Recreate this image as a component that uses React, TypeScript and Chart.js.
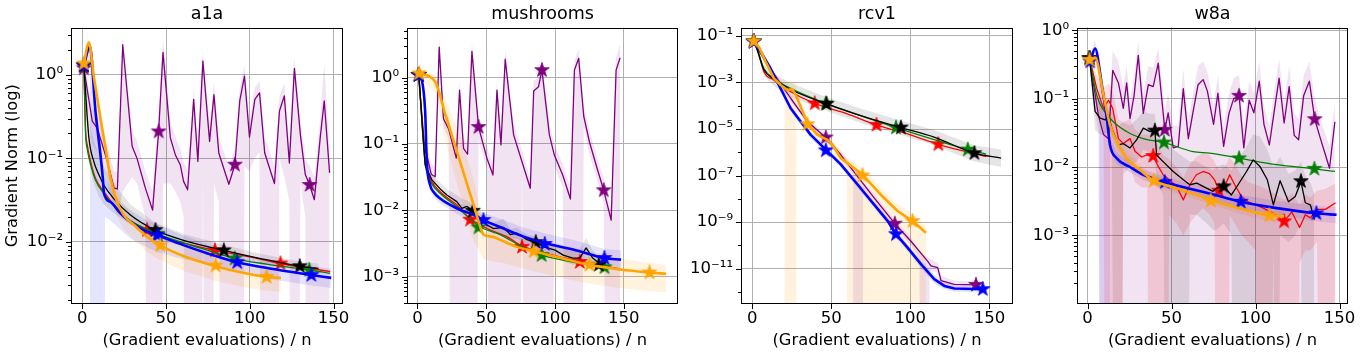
import React, { useEffect, useRef } from 'react';
import { Chart, registerables } from 'chart.js';

Chart.register(...registerables);
Chart.defaults.font.family = "'DejaVu Sans', sans-serif";
Chart.defaults.color = '#000';

const OFF = 1e-16; // band edge that falls below the visible range

// ---------------- a1a ----------------
const A1A_PURPLE_X = [1, 6, 9, 15, 19, 21, 24.2, 29.8, 32.7, 37.7, 42, 45.6, 48.2, 52.6, 55.6, 58.5, 60.5, 62.9, 66.5, 69, 72, 76, 78.6, 81.5, 87.5, 91.1, 94, 96.8, 99.8, 103, 105.8, 108.9, 114.7, 117.7, 120.6, 123.6, 126.6, 130.2, 133.1, 135.7, 138.5, 142, 144.4, 147.6];
const A1A_PURPLE_Y = [1.2, 0.28, 0.23, 0.092, 0.044, 0.043, 2.3, 0.14, 0.1, 0.044, 0.024, 0.21, 1.86, 0.176, 0.11, 0.084, 0.053, 0.042, 0.51, 0.092, 1.47, 0.16, 0.58, 0.116, 0.049, 0.084, 0.49, 0.97, 0.18, 0.51, 0.61, 0.116, 0.05, 0.37, 0.56, 0.088, 1.2, 0.19, 0.064, 0.048, 0.032, 0.176, 0.49, 0.067];
const A1A_PURPLE_LO = [0.9, 0.15, 0.12, 0.05, 0.025, 0.022, 0.04, 0.06, 0.05, 0.02, OFF, OFF, 0.05, 0.05, 0.04, 0.03, 0.02, OFF, OFF, OFF, 0.06, OFF, 0.05, 0.03, OFF, OFF, OFF, 0.08, 0.07, 0.1, 0.12, OFF, OFF, 0.1, 0.06, 0.03, OFF, 0.05, 0.02, OFF, OFF, OFF, OFF, OFF];
const A1A_PURPLE_HI = [1.5, 0.4, 0.35, 0.14, 0.07, 0.07, 2.6, 0.22, 0.16, 0.07, 0.04, 0.35, 2.7, 0.28, 0.18, 0.13, 0.09, 0.07, 0.7, 0.15, 1.9, 0.26, 0.8, 0.18, 0.08, 0.13, 0.7, 1.3, 0.28, 0.7, 0.85, 0.18, 0.08, 0.55, 0.8, 0.14, 1.6, 0.3, 0.1, 0.08, 0.06, 0.3, 1.4, 0.12];
const A1A_PURPLE_STARS = [[1, 1.2], [45.6, 0.21], [91.1, 0.084], [135.7, 0.048]];

const A1A_RED_X = [1, 2, 3, 5, 7.9, 12.9, 18.8, 26.8, 38.7, 52.6, 66, 79.2, 100, 118.3, 147.9];
const A1A_RED_Y = [1.3, 0.23, 0.146, 0.092, 0.058, 0.04, 0.028, 0.019, 0.0138, 0.0105, 0.0091, 0.0079, 0.0066, 0.0055, 0.0044];
const A1A_RED_STARS = [[1, 1.3], [38.7, 0.0138], [79.2, 0.0079], [118.3, 0.0055]];

const A1A_GREEN_X = [1, 2, 3, 5, 7.9, 12.9, 18.8, 26.8, 45, 60, 75, 91, 110, 135.5, 147.9];
const A1A_GREEN_Y = [1.3, 0.2, 0.13, 0.085, 0.055, 0.038, 0.027, 0.019, 0.0125, 0.0098, 0.0079, 0.0063, 0.0054, 0.0046, 0.0042];
const A1A_GREEN_STARS = [[1, 1.3], [45, 0.0125], [91, 0.0063], [135.5, 0.0046]];

const A1A_BLACK_X = [1, 4, 6.9, 9.9, 12.9, 18.8, 28.8, 43.7, 60, 84.5, 105, 129.8, 141];
const A1A_BLACK_Y = [1.3, 0.176, 0.092, 0.064, 0.048, 0.033, 0.021, 0.0138, 0.0105, 0.0079, 0.0064, 0.0051, 0.0048];
const A1A_BLACK_LO = [1.1, 0.09, 0.05, 0.035, 0.028, 0.022, 0.016, 0.011, 0.0088, 0.0068, 0.0056, 0.0045, 0.0042];
const A1A_BLACK_HI = [1.5, 0.3, 0.16, 0.11, 0.08, 0.05, 0.028, 0.017, 0.0125, 0.0092, 0.0073, 0.0058, 0.0055];
const A1A_BLACK_STARS = [[1, 1.3], [43.7, 0.0138], [84.5, 0.0079], [129.8, 0.0051]];

const A1A_BLUE_X = [1, 4.6, 7.9, 10.9, 12.3, 13, 16.9, 22.8, 28.8, 36.7, 45, 60, 73.6, 92.5, 115, 136.7, 148.6];
const A1A_BLUE_Y = [1.3, 2.2, 0.37, 0.11, 0.058, 0.038, 0.03, 0.022, 0.0174, 0.0138, 0.012, 0.0092, 0.0074, 0.0057, 0.0047, 0.004, 0.0037];
const A1A_BLUE_BX = [1, 4.6, 5, 13.4, 13.6, 16.9, 22.8, 28.8, 36.7, 45, 60, 73.6, 92.5, 115, 136.7, 148.6];
const A1A_BLUE_LO = [1.0, 1.5, OFF, OFF, 0.02, 0.018, 0.014, 0.011, 0.009, 0.0075, 0.0062, 0.0056, 0.0045, 0.0035, 0.003, 0.0028];
const A1A_BLUE_HI = [1.6, 2.6, 2.0, 0.06, 0.06, 0.045, 0.03, 0.024, 0.019, 0.016, 0.012, 0.0095, 0.0073, 0.006, 0.0051, 0.0048];
const A1A_BLUE_STARS = [[1, 1.3], [45, 0.012], [92.5, 0.0057], [136.7, 0.004]];

const A1A_ORANGE_X = [1, 4, 7, 10.9, 13.9, 16.9, 20.8, 24.8, 30.8, 38.7, 46.6, 60, 79.6, 95, 110, 118.5];
const A1A_ORANGE_Y = [1.37, 2.45, 0.93, 0.3, 0.133, 0.058, 0.03, 0.021, 0.016, 0.0115, 0.0091, 0.0068, 0.0051, 0.0043, 0.0038, 0.0037];
const A1A_ORANGE_LO = [1.2, 2.0, 0.7, 0.2, 0.09, 0.04, 0.02, 0.014, 0.0105, 0.0075, 0.006, 0.0045, 0.0034, 0.0029, 0.0026, 0.0025];
const A1A_ORANGE_HI = [1.55, 2.7, 1.2, 0.4, 0.18, 0.08, 0.04, 0.028, 0.021, 0.015, 0.012, 0.009, 0.0068, 0.0057, 0.005, 0.0049];
const A1A_ORANGE_STARS = [[1, 1.37], [46.6, 0.0091], [79.6, 0.0052], [110, 0.0038]];

// ---------------- mushrooms ----------------
const MUS_PURPLE_X = [0.7, 5, 10, 12.9, 15.8, 18.9, 22.6, 28.2, 30.6, 33.5, 36.4, 39.6, 44.4, 50.5, 54.9, 57.8, 60.7, 63.8, 69.9, 76, 82, 84.5, 88, 90.5, 95.9, 99.5, 105.6, 111.2, 114.1, 117.2, 120.9, 125, 130.3, 135.4, 140.8, 144.4, 147.3];
const MUS_PURPLE_Y = [1.1, 0.1, 0.035, 0.032, 2.9, 0.24, 0.17, 0.061, 0.65, 0.086, 0.07, 2.5, 0.18, 0.061, 0.034, 0.65, 0.097, 1.9, 0.137, 0.054, 0.0215, 0.63, 0.73, 1.3, 0.137, 0.068, 0.034, 0.0148, 1.3, 1.96, 0.26, 0.108, 0.045, 0.02, 0.0071, 1.3, 2.0];
const MUS_PURPLE_LO = [0.9, 0.07, 0.025, 0.025, 2.0, 0.18, 0.12, OFF, OFF, OFF, OFF, OFF, 0.12, 0.04, OFF, OFF, OFF, OFF, OFF, 0.035, OFF, OFF, OFF, OFF, OFF, 0.045, 0.022, OFF, OFF, OFF, 0.18, 0.07, 0.03, 0.013, OFF, OFF, OFF];
const MUS_PURPLE_HI = [1.3, 0.15, 0.05, 0.045, 4.0, 0.35, 0.25, 0.09, 0.9, 0.12, 0.1, 3.4, 0.26, 0.09, 0.05, 0.9, 0.14, 2.6, 0.2, 0.08, 0.03, 0.9, 1.0, 1.9, 0.2, 0.1, 0.05, 0.022, 1.8, 2.7, 0.38, 0.16, 0.065, 0.03, 0.01, 2.0, 3.3];
const MUS_PURPLE_STARS = [[0.7, 1.1], [44.4, 0.18], [90.5, 1.3], [135.4, 0.02]];

const MUS_RED_X = [1, 5.6, 7.3, 10.4, 16.5, 28.6, 38.3, 50.5, 65, 76, 95, 118, 146.8];
const MUS_RED_Y = [1.1, 0.054, 0.038, 0.027, 0.019, 0.012, 0.0075, 0.0053, 0.004, 0.0029, 0.0022, 0.0017, 0.0013];
const MUS_RED_STARS = [[1, 1.1], [38.3, 0.0072], [76, 0.0028], [118, 0.00166]];

const MUS_GREEN_X = [1, 5.6, 7.3, 10.4, 16.5, 28.6, 44.4, 60, 75, 90.3, 110, 136, 147];
const MUS_GREEN_Y = [1.1, 0.05, 0.035, 0.025, 0.018, 0.0113, 0.0058, 0.0043, 0.0029, 0.0021, 0.0017, 0.0014, 0.0013];
const MUS_GREEN_STARS = [[1, 1.1], [44.4, 0.0055], [90.3, 0.0021], [136, 0.00138]];

const MUS_BLACK_X = [1, 5.6, 10.4, 16.5, 21.4, 28.6, 32.3, 36, 40.3, 43.2, 50.5, 55.3, 62.6, 67.5, 72.3, 79.6, 86, 92, 100, 106, 112.9, 118, 122.6, 127.4, 131.8, 134.7];
const MUS_BLACK_Y = [1.1, 0.048, 0.029, 0.021, 0.017, 0.0135, 0.0107, 0.0114, 0.0098, 0.0085, 0.006, 0.0053, 0.0055, 0.0043, 0.0045, 0.0036, 0.0033, 0.0028, 0.0025, 0.0021, 0.0019, 0.0019, 0.0027, 0.0019, 0.0016, 0.0015];
const MUS_BLACK_LO = [1.0, 0.04, 0.024, 0.017, 0.014, 0.011, 0.0088, 0.009, 0.008, 0.007, 0.005, 0.0044, 0.0044, 0.0036, 0.0037, 0.003, 0.0027, 0.0023, 0.002, 0.0017, 0.0015, 0.0015, 0.0018, 0.0015, 0.0013, 0.0012];
const MUS_BLACK_HI = [1.2, 0.058, 0.035, 0.026, 0.021, 0.017, 0.015, 0.014, 0.012, 0.01, 0.0072, 0.0065, 0.0075, 0.0052, 0.0055, 0.0043, 0.004, 0.0034, 0.003, 0.0026, 0.0024, 0.0026, 0.0038, 0.0025, 0.002, 0.0018];
const MUS_BLACK_STARS = [[1, 1.1], [40.3, 0.0098], [86, 0.0033], [131.8, 0.0015]];

const MUS_BLUE_X = [1, 3, 5.6, 6.8, 9.2, 11.6, 16.5, 28.6, 40.8, 48, 62.6, 77.2, 92.5, 115, 135.9, 148];
const MUS_BLUE_Y = [1.1, 0.95, 0.31, 0.054, 0.024, 0.019, 0.015, 0.0107, 0.0085, 0.0071, 0.0053, 0.004, 0.0032, 0.0025, 0.0019, 0.0018];
const MUS_BLUE_LO = [1.0, 0.85, 0.25, 0.045, 0.02, 0.016, 0.0125, 0.0088, 0.0068, 0.0056, 0.0041, 0.003, 0.0023, 0.0017, 0.0013, 0.0012];
const MUS_BLUE_HI = [1.2, 1.05, 0.38, 0.065, 0.029, 0.023, 0.018, 0.013, 0.011, 0.0092, 0.0071, 0.0055, 0.0045, 0.0035, 0.0026, 0.0025];
const MUS_BLUE_STARS = [[1, 1.1], [48, 0.0071], [92.5, 0.0031], [135.9, 0.0019]];

const MUS_ORANGE_X = [1.2, 12.9, 20, 30, 40.8, 44.4, 48, 54, 62.6, 72.3, 84.5, 100, 125, 145, 168.7, 180.8];
const MUS_ORANGE_Y = [1.16, 0.87, 0.29, 0.063, 0.012, 0.0068, 0.0043, 0.004, 0.0034, 0.0028, 0.0024, 0.002, 0.0015, 0.0013, 0.00115, 0.0011];
const MUS_ORANGE_LO = [1.0, 0.6, 0.12, 0.02, 0.0035, 0.0025, 0.0018, 0.0017, 0.0016, 0.0014, 0.0012, 0.001, 0.00078, 0.00068, 0.0006, 0.00058];
const MUS_ORANGE_HI = [1.3, 1.1, 0.5, 0.15, 0.03, 0.014, 0.0075, 0.0062, 0.0052, 0.0044, 0.0038, 0.0032, 0.0024, 0.0019, 0.0016, 0.0015];
const MUS_ORANGE_STARS = [[1.2, 1.16], [84.5, 0.0024], [125, 0.0015], [168.7, 0.00115]];

// ---------------- rcv1 ----------------
const RCV_PURPLE_X = [1, 8.5, 24.3, 34.9, 46.5, 56, 77.1, 90.2, 100.4, 110.9, 113, 117.3, 119.4, 127.8, 141.5];
const RCV_PURPLE_Y = [5.8e-2, 7.8e-3, 2.1e-4, 2.1e-5, 4.3e-6, 7.8e-7, 1.1e-8, 8.5e-10, 1.5e-10, 2.1e-11, 1.3e-11, 1.1e-11, 3.0e-12, 2.1e-12, 2.0e-12];
const RCV_PURPLE_BX = [1, 8.5, 24.3, 34.9, 46.5, 56, 63.8, 64, 70, 70.2, 77.1, 90.2, 100.4, 105.8, 106, 112, 112.2, 117.3, 119.4, 127.8, 141.5];
const RCV_PURPLE_LO = [5e-2, 6e-3, 1.5e-4, 1.5e-5, 3e-6, 5.5e-7, 1.1e-7, OFF, OFF, 2.8e-8, 8e-9, 6e-10, 1e-10, 2.5e-11, OFF, OFF, 8e-12, 7e-12, 2e-12, 1.5e-12, 1.5e-12];
const RCV_PURPLE_HI = [6.5e-2, 1.0e-2, 2.9e-4, 2.9e-5, 6e-6, 1.1e-6, 2.6e-7, 2.5e-7, 5.5e-8, 5.3e-8, 1.6e-8, 1.2e-9, 2.2e-10, 5e-11, 5e-11, 2.8e-11, 2.7e-11, 1.8e-11, 5e-12, 3e-12, 2.8e-12];
const RCV_PURPLE_STARS = [[1, 5.8e-2], [46.5, 4.3e-6], [90.2, 8.5e-10], [141.5, 2.0e-12]];

const RCV_RED_X = [1, 3.2, 7.4, 13.7, 24.3, 39.5, 60, 78.6, 100, 117.7, 147.9];
const RCV_RED_Y = [5.9e-2, 2.9e-2, 2.9e-3, 1.26e-3, 4.0e-4, 1.26e-4, 4.5e-5, 1.5e-5, 5.6e-6, 2.2e-6, 6.6e-7];
const RCV_RED_STARS = [[1, 5.9e-2], [39.5, 1.26e-4], [78.6, 1.5e-5], [117.7, 2.2e-6]];

const RCV_GREEN_X = [1, 3.2, 7.4, 13.7, 24.3, 46.5, 70, 90.9, 115, 136.3, 147.9];
const RCV_GREEN_Y = [5.9e-2, 2.5e-2, 4.0e-3, 1.5e-3, 5.6e-4, 1.26e-4, 3.5e-5, 1.15e-5, 3.5e-6, 1.3e-6, 8.3e-7];
const RCV_GREEN_STARS = [[1, 5.9e-2], [46.5, 1.26e-4], [90.9, 1.15e-5], [136.3, 1.3e-6]];

const RCV_BLACK_X = [1, 3.2, 7.4, 13.7, 24.3, 47, 70, 94, 115, 140.5, 157.4];
const RCV_BLACK_Y = [5.9e-2, 2.5e-2, 3.5e-3, 1.4e-3, 5.0e-4, 1.2e-4, 3.5e-5, 1.15e-5, 4.5e-6, 9.1e-7, 5.6e-7];
const RCV_BLACK_LO = [5.0e-2, 1.8e-2, 1.9e-3, 7e-4, 2.3e-4, 6e-5, 1.7e-5, 5.5e-6, 2e-6, 4e-7, 2.3e-7];
const RCV_BLACK_HI = [6.5e-2, 3.2e-2, 5.5e-3, 2.4e-3, 9.5e-4, 2.3e-4, 7e-5, 2.3e-5, 9e-6, 2e-6, 1.3e-6];
const RCV_BLACK_STARS = [[1, 5.9e-2], [47, 1.2e-4], [94, 1.15e-5], [140.5, 9.1e-7]];

const RCV_BLUE_X = [1, 5.3, 11.6, 15.8, 24.3, 30.6, 37, 46.5, 56, 66.6, 77.1, 85.7, 90.9, 98.2, 106.7, 115.1, 121.5, 127.8, 145.8];
const RCV_BLUE_Y = [5.6e-2, 2.1e-2, 4.0e-3, 1.07e-3, 7.8e-5, 2.1e-5, 5.6e-6, 1.3e-6, 3.0e-7, 4.1e-8, 5.6e-9, 1.1e-9, 3.0e-10, 7.9e-11, 1.55e-11, 3.5e-12, 1.8e-12, 1.4e-12, 1.3e-12];
const RCV_BLUE_LO = [5.0e-2, 1.6e-2, 3.0e-3, 8.0e-4, 5.8e-5, 1.5e-5, 4.0e-6, 9.5e-7, 2.2e-7, 3.0e-8, 4.0e-9, 7.8e-10, 2.1e-10, 5.5e-11, 1.0e-11, 2.3e-12, 1.3e-12, 1.0e-12, 0.95e-12];
const RCV_BLUE_HI = [6.3e-2, 2.8e-2, 5.4e-3, 1.4e-3, 1.05e-4, 2.9e-5, 7.6e-6, 1.8e-6, 4.1e-7, 5.6e-8, 7.8e-9, 1.6e-9, 4.3e-10, 1.1e-10, 2.3e-11, 5.5e-12, 2.6e-12, 1.9e-12, 1.7e-12];
const RCV_BLUE_STARS = [[1, 5.6e-2], [46.5, 1.2e-6], [90.9, 3.0e-10], [145.8, 1.3e-12]];

const RCV_ORANGE_X = [1, 4.2, 8.5, 13.7, 18, 22.2, 25.4, 27.5, 34.9, 41.2, 47.5, 50.7, 56, 69.7, 81.3, 91.9, 101.4, 109.9];
const RCV_ORANGE_Y = [5.9e-2, 3.4e-2, 7.8e-3, 1.5e-3, 7.8e-4, 4.7e-4, 5.2e-4, 2.9e-4, 1.8e-5, 5.6e-6, 3.4e-6, 2.1e-6, 5.6e-7, 1.1e-7, 1.5e-8, 3.0e-9, 1.1e-9, 3.5e-10];
const RCV_ORANGE_BX = [1, 13.7, 20.4, 20.6, 27.8, 28, 34.9, 41.2, 47.5, 56, 59.8, 60, 69.7, 81.3, 91.9, 101.4, 109.9, 110.1];
const RCV_ORANGE_LO = [5.2e-2, 1.2e-3, 4e-4, OFF, OFF, 2e-4, 1.2e-5, 3.5e-6, 2e-6, 3e-7, 1.5e-7, OFF, OFF, OFF, OFF, OFF, OFF, OFF];
const RCV_ORANGE_HI = [6.7e-2, 1.9e-3, 1e-3, 1e-3, 1e-3, 5e-4, 2.8e-5, 9e-6, 5.5e-6, 1.2e-6, 6e-7, 6e-7, 2.2e-7, 3e-8, 6e-9, 2.2e-9, 7e-10, OFF];
const RCV_ORANGE_STARS = [[1, 5.9e-2], [34.9, 1.6e-5], [69.7, 1.0e-7], [101.4, 1.1e-9]];

// ---------------- w8a ----------------
const W8A_PURPLE_X = [1.2, 3, 6.5, 9.5, 12.5, 15, 18.4, 21.3, 23.3, 25.3, 27.7, 30.2, 33.2, 36.2, 39.1, 42.1, 46, 48, 51, 54, 57, 60, 62.8, 65.8, 68.8, 71.3, 75, 77.6, 81, 84.2, 87, 90.2, 93, 96.2, 99, 102.2, 105, 108.2, 111.2, 114, 117, 120, 123, 125.6, 128.6, 132, 135.2, 138.6, 141.6, 144, 147.2];
const W8A_PURPLE_Y = [0.39, 0.2, 0.057, 0.03, 0.026, 0.26, 0.17, 0.072, 0.17, 0.051, 0.11, 0.43, 0.061, 0.16, 0.15, 0.33, 0.035, 0.062, 0.019, 0.02, 0.14, 0.026, 0.064, 0.16, 0.19, 0.13, 0.042, 0.12, 0.02, 0.061, 0.1, 0.11, 0.019, 0.095, 0.062, 0.18, 0.042, 0.021, 0.068, 0.2, 0.044, 0.15, 0.029, 0.025, 0.11, 0.18, 0.05, 0.026, 0.015, 0.0096, 0.046];
const W8A_PURPLE_LO = [0.3, 0.12, 0.03, OFF, OFF, OFF, OFF, OFF, OFF, OFF, OFF, OFF, OFF, OFF, OFF, OFF, OFF, OFF, OFF, OFF, OFF, OFF, OFF, OFF, OFF, OFF, OFF, OFF, OFF, OFF, OFF, OFF, OFF, OFF, OFF, OFF, OFF, OFF, OFF, OFF, OFF, OFF, OFF, OFF, OFF, OFF, OFF, OFF, OFF, OFF, OFF];
const W8A_PURPLE_HI = [0.45, 0.3, 0.12, 0.06, 0.05, 0.5, 0.35, 0.15, 0.3, 0.1, 0.2, 0.7, 0.12, 0.3, 0.28, 0.55, 0.07, 0.12, 0.04, 0.04, 0.27, 0.05, 0.12, 0.3, 0.35, 0.25, 0.08, 0.22, 0.04, 0.12, 0.2, 0.22, 0.04, 0.18, 0.12, 0.35, 0.08, 0.04, 0.13, 0.38, 0.09, 0.3, 0.06, 0.05, 0.22, 0.35, 0.1, 0.05, 0.03, 0.02, 0.09];
const W8A_PURPLE_STARS = [[1.2, 0.39], [46, 0.035], [90.2, 0.11], [135.2, 0.05]];

const W8A_RED_X = [1.2, 5.5, 9.5, 12.5, 15, 18.4, 21.3, 25.3, 28.3, 32.2, 35.5, 39.1, 42.1, 45, 48.6, 53, 57, 60.9, 64.8, 68.8, 72.6, 75.6, 78.2, 81.6, 84.6, 87.6, 91.6, 95.6, 100, 104.6, 110.6, 117, 121.6, 126.2, 129.6, 132.6, 136.6, 141.6, 147.6];
const W8A_RED_Y = [0.39, 0.14, 0.072, 0.095, 0.072, 0.026, 0.022, 0.026, 0.017, 0.014, 0.015, 0.0145, 0.0102, 0.0077, 0.0065, 0.0052, 0.0033, 0.0055, 0.0077, 0.0086, 0.008, 0.0065, 0.0045, 0.0052, 0.0077, 0.0055, 0.0037, 0.0031, 0.0028, 0.0025, 0.0021, 0.0016, 0.0022, 0.0013, 0.002, 0.0018, 0.0024, 0.0024, 0.003];
const W8A_RED_LO = [0.3, 0.08, 0.035, OFF, OFF, OFF, 0.008, 0.01, 0.006, 0.005, 0.005, OFF, OFF, OFF, 0.002, 0.0015, 0.001, 0.0015, 0.002, 0.0025, 0.002, 0.0015, OFF, OFF, 0.002, 0.0015, 0.001, 0.0008, 0.0006, OFF, 0.0007, OFF, OFF, 0.0004, 0.0006, 0.0006, 0.0008, OFF, OFF];
const W8A_RED_HI = [0.45, 0.22, 0.14, 0.17, 0.13, 0.05, 0.045, 0.05, 0.035, 0.03, 0.03, 0.028, 0.02, 0.015, 0.013, 0.01, 0.007, 0.011, 0.014, 0.016, 0.015, 0.012, 0.009, 0.01, 0.014, 0.011, 0.0075, 0.006, 0.0055, 0.005, 0.0042, 0.0033, 0.0042, 0.0028, 0.004, 0.0036, 0.0045, 0.0048, 0.0058];
const W8A_RED_STARS = [[1.2, 0.39], [39.1, 0.0145], [78.2, 0.0045], [117, 0.0016]];

const W8A_GREEN_X = [1.2, 5.5, 13.4, 23.3, 33.2, 45.5, 62.8, 72.6, 90.2, 112.6, 135, 147.2];
const W8A_GREEN_Y = [0.39, 0.113, 0.052, 0.033, 0.026, 0.0228, 0.0168, 0.016, 0.0135, 0.0108, 0.0094, 0.0086];
const W8A_GREEN_STARS = [[1.2, 0.39], [45.5, 0.0228], [90.2, 0.0134], [135, 0.0094]];

const W8A_BLACK_X = [1.2, 4.5, 7.5, 10.5, 12.5, 14.4, 18.4, 21.3, 25.3, 29.2, 33.2, 37.2, 40.1, 41.1, 45, 51, 57, 60.9, 65, 70.8, 74.7, 76.6, 81, 85.6, 89.6, 94.6, 98.6, 102.6, 107, 110.6, 114.6, 119.6, 123.6, 127, 129.6, 132.6, 135];
const W8A_BLACK_Y = [0.39, 0.065, 0.052, 0.049, 0.058, 0.037, 0.021, 0.022, 0.019, 0.025, 0.037, 0.033, 0.034, 0.015, 0.012, 0.0086, 0.0065, 0.0055, 0.0058, 0.0049, 0.0044, 0.0049, 0.0052, 0.0039, 0.0055, 0.0086, 0.0127, 0.0102, 0.0065, 0.0028, 0.0063, 0.0031, 0.0037, 0.0061, 0.003, 0.0028, 0.0017];
const W8A_BLACK_LO = [0.3, 0.035, 0.03, 0.03, 0.035, 0.02, OFF, 0.01, 0.01, 0.012, 0.018, 0.016, 0.015, 0.006, 0.004, OFF, OFF, 0.002, 0.002, 0.0015, 0.0012, 0.0012, 0.0015, 0.001, OFF, OFF, OFF, OFF, OFF, OFF, 0.001, 0.0008, 0.001, 0.0015, OFF, OFF, OFF];
const W8A_BLACK_HI = [0.45, 0.12, 0.09, 0.08, 0.09, 0.065, 0.04, 0.045, 0.04, 0.05, 0.065, 0.06, 0.06, 0.03, 0.025, 0.018, 0.014, 0.012, 0.012, 0.01, 0.009, 0.01, 0.011, 0.009, 0.013, 0.02, 0.03, 0.028, 0.018, 0.01, 0.014, 0.008, 0.009, 0.012, 0.0075, 0.006, 0.004];
const W8A_BLACK_STARS = [[1.2, 0.39], [40.1, 0.034], [81, 0.0052], [127, 0.0062]];

const W8A_BLUE_X = [1.6, 4.5, 8.5, 11.5, 13.4, 17.4, 25.3, 33.2, 46, 62.8, 72.6, 91.2, 112.6, 136.2, 148.2];
const W8A_BLUE_Y = [0.35, 0.54, 0.16, 0.051, 0.021, 0.0134, 0.01, 0.0077, 0.006, 0.0047, 0.0041, 0.0031, 0.0025, 0.0021, 0.002];
const W8A_BLUE_BX = [1.6, 4.5, 7, 7.2, 13, 13.4, 17.4, 25.3, 33.2, 46, 62.8, 72.6, 91.2, 112.6, 136.2, 148.2];
const W8A_BLUE_LO = [0.3, 0.42, 0.2, OFF, OFF, 0.017, 0.011, 0.0083, 0.0064, 0.005, 0.0039, 0.0034, 0.0025, 0.002, 0.0016, 0.0015];
const W8A_BLUE_HI = [0.42, 0.72, 0.35, 0.33, 0.06, 0.026, 0.016, 0.012, 0.0093, 0.0072, 0.0056, 0.005, 0.0039, 0.0032, 0.0027, 0.0026];
const W8A_BLUE_STARS = [[1.6, 0.35], [46, 0.006], [91.2, 0.0031], [136.2, 0.0021]];

const W8A_ORANGE_X = [1.2, 4.5, 9.5, 13.4, 17.4, 23.3, 31.2, 39.5, 53, 62.8, 73.3, 90, 108.2, 117];
const W8A_ORANGE_Y = [0.37, 0.4, 0.113, 0.041, 0.0236, 0.0135, 0.0091, 0.0063, 0.0049, 0.0041, 0.0033, 0.0025, 0.00196, 0.0019];
const W8A_ORANGE_LO = [0.3, 0.32, 0.085, 0.032, 0.019, 0.011, 0.0076, 0.0053, 0.0041, 0.0035, 0.0028, 0.0021, 0.0016, 0.0016];
const W8A_ORANGE_HI = [0.44, 0.5, 0.14, 0.052, 0.029, 0.0165, 0.011, 0.0075, 0.0058, 0.0049, 0.0039, 0.003, 0.0023, 0.0023];
const W8A_ORANGE_STARS = [[1.2, 0.37], [39.5, 0.0063], [73.3, 0.0032], [108.2, 0.00196]];

// ---------------- axes ----------------
const X_TICKS = [0, 50, 100, 150];
const A1A_MAJOR = [-2, -1, 0];
const MUS_MAJOR = [-3, -2, -1, 0];
const RCV_MAJOR = [-11, -9, -7, -5, -3, -1];
const RCV_MINOR = [-12, -10, -8, -6, -4, -2];
const W8A_MAJOR = [-3, -2, -1, 0];
const X_LABEL = '(Gradient evaluations) / n';
const Y_LABEL = 'Gradient Norm (log)';

const STYLE: Record<string, { color: string; band: string; width: number }> = {
  purple: { color: '#800080', band: 'rgba(128,0,128,0.11)', width: 1.3 },
  red: { color: '#ff0000', band: 'rgba(255,0,0,0.13)', width: 1.3 },
  green: { color: '#008000', band: 'rgba(0,128,0,0.1)', width: 1.3 },
  black: { color: '#000000', band: 'rgba(0,0,0,0.1)', width: 1.3 },
  blue: { color: '#0000ff', band: 'rgba(0,0,255,0.1)', width: 2.6 },
  orange: { color: '#ffa500', band: 'rgba(255,165,0,0.13)', width: 2.6 },
};

type S = { key: string; x: number[]; y: number[]; bx?: number[]; lo?: number[]; hi?: number[]; stars: number[][]; smooth: boolean };

const PANELS = [
  {
    title: 'a1a', plotLeft: 71, plotW: 272, yW: 71, xMin: -6.68, xMax: 155.6, yMin: 1.8e-3, yMax: 3.7,
    major: A1A_MAJOR, minorDecades: null as number[] | null, yTitle: true,
    series: [
      { key: 'purple', x: A1A_PURPLE_X, y: A1A_PURPLE_Y, lo: A1A_PURPLE_LO, hi: A1A_PURPLE_HI, stars: A1A_PURPLE_STARS, smooth: false },
      { key: 'red', x: A1A_RED_X, y: A1A_RED_Y, stars: A1A_RED_STARS, smooth: true },
      { key: 'green', x: A1A_GREEN_X, y: A1A_GREEN_Y, stars: A1A_GREEN_STARS, smooth: true },
      { key: 'black', x: A1A_BLACK_X, y: A1A_BLACK_Y, lo: A1A_BLACK_LO, hi: A1A_BLACK_HI, stars: A1A_BLACK_STARS, smooth: true },
      { key: 'blue', x: A1A_BLUE_X, y: A1A_BLUE_Y, bx: A1A_BLUE_BX, lo: A1A_BLUE_LO, hi: A1A_BLUE_HI, stars: A1A_BLUE_STARS, smooth: true },
      { key: 'orange', x: A1A_ORANGE_X, y: A1A_ORANGE_Y, lo: A1A_ORANGE_LO, hi: A1A_ORANGE_HI, stars: A1A_ORANGE_STARS, smooth: true },
    ] as S[],
  },
  {
    title: 'mushrooms', plotLeft: 407, plotW: 271, yW: 60, xMin: -7.6, xMax: 189.4, yMin: 3.85e-4, yMax: 5.72,
    major: MUS_MAJOR, minorDecades: null, yTitle: false,
    series: [
      { key: 'purple', x: MUS_PURPLE_X, y: MUS_PURPLE_Y, lo: MUS_PURPLE_LO, hi: MUS_PURPLE_HI, stars: MUS_PURPLE_STARS, smooth: false },
      { key: 'red', x: MUS_RED_X, y: MUS_RED_Y, stars: MUS_RED_STARS, smooth: true },
      { key: 'green', x: MUS_GREEN_X, y: MUS_GREEN_Y, stars: MUS_GREEN_STARS, smooth: true },
      { key: 'black', x: MUS_BLACK_X, y: MUS_BLACK_Y, lo: MUS_BLACK_LO, hi: MUS_BLACK_HI, stars: MUS_BLACK_STARS, smooth: false },
      { key: 'blue', x: MUS_BLUE_X, y: MUS_BLUE_Y, lo: MUS_BLUE_LO, hi: MUS_BLUE_HI, stars: MUS_BLUE_STARS, smooth: true },
      { key: 'orange', x: MUS_ORANGE_X, y: MUS_ORANGE_Y, lo: MUS_ORANGE_LO, hi: MUS_ORANGE_HI, stars: MUS_ORANGE_STARS, smooth: true },
    ] as S[],
  },
  {
    title: 'rcv1', plotLeft: 741, plotW: 272, yW: 60, xMin: -7.1, xMax: 164.9, yMin: 3.36e-13, yMax: 0.231,
    major: RCV_MAJOR, minorDecades: RCV_MINOR, yTitle: false,
    series: [
      { key: 'purple', x: RCV_PURPLE_X, y: RCV_PURPLE_Y, bx: RCV_PURPLE_BX, lo: RCV_PURPLE_LO, hi: RCV_PURPLE_HI, stars: RCV_PURPLE_STARS, smooth: false },
      { key: 'red', x: RCV_RED_X, y: RCV_RED_Y, stars: RCV_RED_STARS, smooth: true },
      { key: 'green', x: RCV_GREEN_X, y: RCV_GREEN_Y, stars: RCV_GREEN_STARS, smooth: true },
      { key: 'black', x: RCV_BLACK_X, y: RCV_BLACK_Y, lo: RCV_BLACK_LO, hi: RCV_BLACK_HI, stars: RCV_BLACK_STARS, smooth: true },
      { key: 'blue', x: RCV_BLUE_X, y: RCV_BLUE_Y, lo: RCV_BLUE_LO, hi: RCV_BLUE_HI, stars: RCV_BLUE_STARS, smooth: false },
      { key: 'orange', x: RCV_ORANGE_X, y: RCV_ORANGE_Y, bx: RCV_ORANGE_BX, lo: RCV_ORANGE_LO, hi: RCV_ORANGE_HI, stars: RCV_ORANGE_STARS, smooth: false },
    ] as S[],
  },
  {
    title: 'w8a', plotLeft: 1077, plotW: 271, yW: 60, xMin: -6.25, xMax: 155.0, yMin: 9.9e-5, yMax: 1.099,
    major: W8A_MAJOR, minorDecades: null, yTitle: false,
    series: [
      { key: 'purple', x: W8A_PURPLE_X, y: W8A_PURPLE_Y, lo: W8A_PURPLE_LO, hi: W8A_PURPLE_HI, stars: W8A_PURPLE_STARS, smooth: false },
      { key: 'red', x: W8A_RED_X, y: W8A_RED_Y, lo: W8A_RED_LO, hi: W8A_RED_HI, stars: W8A_RED_STARS, smooth: false },
      { key: 'green', x: W8A_GREEN_X, y: W8A_GREEN_Y, stars: W8A_GREEN_STARS, smooth: true },
      { key: 'black', x: W8A_BLACK_X, y: W8A_BLACK_Y, lo: W8A_BLACK_LO, hi: W8A_BLACK_HI, stars: W8A_BLACK_STARS, smooth: false },
      { key: 'blue', x: W8A_BLUE_X, y: W8A_BLUE_Y, bx: W8A_BLUE_BX, lo: W8A_BLUE_LO, hi: W8A_BLUE_HI, stars: W8A_BLUE_STARS, smooth: true },
      { key: 'orange', x: W8A_ORANGE_X, y: W8A_ORANGE_Y, lo: W8A_ORANGE_LO, hi: W8A_ORANGE_HI, stars: W8A_ORANGE_STARS, smooth: true },
    ] as S[],
  },
];

const RIGHT_PAD = 24;
const H = 352;
const SUP: Record<string, string> = { '-': '⁻', '0': '⁰', '1': '¹', '2': '²', '3': '³', '4': '⁴', '5': '⁵', '6': '⁶', '7': '⁷', '8': '⁸', '9': '⁹' };
const sup = (n: number) => String(n).split('').map((c) => SUP[c]).join('');

const starCache: Record<string, HTMLCanvasElement> = {};
function starImage(color: string) {
  if (starCache[color]) return starCache[color];
  const c = document.createElement('canvas');
  const s = 20;
  c.width = s; c.height = s;
  const ctx = c.getContext('2d')!;
  const R = 7.7, r = R * 0.382;
  ctx.beginPath();
  for (let i = 0; i < 10; i++) {
    const a = -Math.PI / 2 + (i * Math.PI) / 5;
    const rad = i % 2 === 0 ? R : r;
    const px = s / 2 + rad * Math.cos(a);
    const py = s / 2 + rad * Math.sin(a);
    if (i === 0) ctx.moveTo(px, py); else ctx.lineTo(px, py);
  }
  ctx.closePath();
  ctx.fillStyle = color;
  ctx.fill();
  ctx.lineWidth = 0.8;
  ctx.strokeStyle = color;
  ctx.lineJoin = 'miter';
  ctx.stroke();
  starCache[color] = c;
  return c;
}

function isMajor(v: number, major: number[]) {
  const e = Math.log10(v);
  const r = Math.round(e);
  return Math.abs(e - r) < 1e-6 && major.includes(r);
}

function yTickValues(p: any) {
  const vals: number[] = [];
  const lo = Math.floor(Math.log10(p.yMin));
  const hi = Math.ceil(Math.log10(p.yMax));
  p.major.forEach((e: number) => vals.push(Math.pow(10, e)));
  if (p.minorDecades) {
    p.minorDecades.forEach((e: number) => vals.push(Math.pow(10, e)));
  } else {
    for (let d = lo; d <= hi; d++) {
      for (let m = 2; m <= 9; m++) vals.push(m * Math.pow(10, d));
    }
  }
  return vals.filter((v) => v >= p.yMin * 0.9999 && v <= p.yMax * 1.0001).sort((a, b) => a - b);
}

const framePlugin = {
  id: 'frame',
  afterDatasetsDraw(chart: any) {
    const { ctx, chartArea: a, scales } = chart;
    const p = chart.options.plugins.frame;
    ctx.save();
    ctx.strokeStyle = '#000';
    ctx.lineWidth = 1;
    scales.y.ticks.forEach((t: any) => {
      const py = Math.round(scales.y.getPixelForValue(t.value)) + 0.5;
      if (py < a.top - 1 || py > a.bottom + 1) return;
      const len = isMajor(t.value, p.major) ? 5 : 3;
      ctx.beginPath();
      ctx.moveTo(a.left - len, py);
      ctx.lineTo(a.left, py);
      ctx.stroke();
    });
    scales.x.ticks.forEach((t: any) => {
      const px = Math.round(scales.x.getPixelForValue(t.value)) + 0.5;
      ctx.beginPath();
      ctx.moveTo(px, a.bottom);
      ctx.lineTo(px, a.bottom + 5);
      ctx.stroke();
    });
    const l = Math.round(a.left) + 0.5, r = Math.round(a.right) - 0.5;
    const t = Math.round(a.top) + 0.5, b = Math.round(a.bottom) - 0.5;
    ctx.strokeRect(l, t, r - l, b - t);
    ctx.restore();
  },
};

function buildConfig(p: any) {
  const datasets: any[] = [];
  p.series.forEach((s: S) => {
    if (s.lo && s.hi) {
      const st = STYLE[s.key];
      const bx = s.bx || s.x;
      datasets.push({
        type: 'line', data: bx.map((x, k) => ({ x, y: s.lo![k] })),
        borderColor: 'rgba(0,0,0,0)', borderWidth: 0, pointRadius: 0, fill: false, order: 200, clip: 0, tension: 0,
      });
      datasets.push({
        type: 'line', data: bx.map((x, k) => ({ x, y: s.hi![k] })),
        borderColor: 'rgba(0,0,0,0)', borderWidth: 0, pointRadius: 0, fill: '-1', backgroundColor: st.band, order: 200, clip: 0, tension: 0,
      });
    }
  });
  p.series.forEach((s: S, i: number) => {
    const st = STYLE[s.key];
    datasets.push({
      type: 'line', data: s.x.map((x, k) => ({ x, y: s.y[k] })),
      borderColor: st.color, borderWidth: st.width, pointRadius: 0, fill: false,
      cubicInterpolationMode: s.smooth ? 'monotone' : 'default', tension: 0,
      borderJoinStyle: 'round', order: 100 - 2 * i, clip: 0,
    });
    datasets.push({
      type: 'line', data: s.stars.map(([x, y]) => ({ x, y })), showLine: false,
      pointStyle: starImage(st.color), pointRadius: 8, order: 99 - 2 * i, clip: 0,
    });
  });
  const ticksY = yTickValues(p);
  return {
    type: 'line',
    data: { datasets },
    plugins: [framePlugin],
    options: {
      animation: false, responsive: false, maintainAspectRatio: false, events: [],
      layout: { padding: { left: 0, right: RIGHT_PAD, top: 0, bottom: 0 } },
      plugins: {
        legend: { display: false }, tooltip: { enabled: false },
        filler: { drawTime: 'beforeDatasetsDraw' },
        frame: { major: p.major },
        title: {
          display: true, text: p.title, fullSize: false, color: '#000',
          font: { size: 17.5, weight: 'normal' }, padding: { top: 4, bottom: 2.5 },
        },
      },
      scales: {
        x: {
          type: 'linear', min: p.xMin, max: p.xMax,
          afterFit: (sc: any) => { sc.height = H - 304; },
          afterBuildTicks: (sc: any) => { sc.ticks = X_TICKS.map((v) => ({ value: v })); },
          grid: { color: '#b0b0b0', lineWidth: 1, drawTicks: false },
          border: { display: false },
          ticks: { padding: 5, autoSkip: false, maxRotation: 0, font: { size: 16.5 }, color: '#000', callback: (v: number) => String(v) },
          title: { display: true, text: X_LABEL, color: '#000', font: { size: 16.3 }, padding: { top: 0, bottom: 1 } },
        },
        y: {
          type: 'logarithmic', min: p.yMin, max: p.yMax,
          afterFit: (sc: any) => { sc.width = p.yW; },
          afterBuildTicks: (sc: any) => { sc.ticks = ticksY.map((v) => ({ value: v })); },
          grid: {
            drawTicks: false, lineWidth: 1,
            color: (c: any) => (c.tick && isMajor(c.tick.value, p.major) ? '#b0b0b0' : 'rgba(0,0,0,0)'),
          },
          border: { display: false },
          ticks: {
            padding: 8, autoSkip: false, font: { size: 16.5 }, color: '#000',
            callback: (v: number) => (isMajor(v, p.major) ? '10' + sup(Math.round(Math.log10(v))) : ''),
          },
          title: { display: p.yTitle, text: Y_LABEL, color: '#000', font: { size: 16.3 }, padding: { top: 3, bottom: 0 } },
        },
      },
    },
  };
}

function Panel({ p }: { p: any }) {
  const ref = useRef<HTMLCanvasElement>(null);
  useEffect(() => {
    const chart = new Chart(ref.current as HTMLCanvasElement, buildConfig(p) as any);
    return () => chart.destroy();
  }, []);
  const left = p.plotLeft - p.yW;
  const w = p.yW + p.plotW + RIGHT_PAD;
  return (
    <canvas
      ref={ref}
      width={w}
      height={H}
      style={{ position: 'absolute', left, top: 0, width: w, height: H }}
    />
  );
}

export default function App() {
  return (
    <div style={{ position: 'absolute', left: 0, top: 0, width: 1360, height: H, background: '#fff', overflow: 'hidden' }}>
      {PANELS.map((p, i) => (
        <Panel key={i} p={p} />
      ))}
    </div>
  );
}
